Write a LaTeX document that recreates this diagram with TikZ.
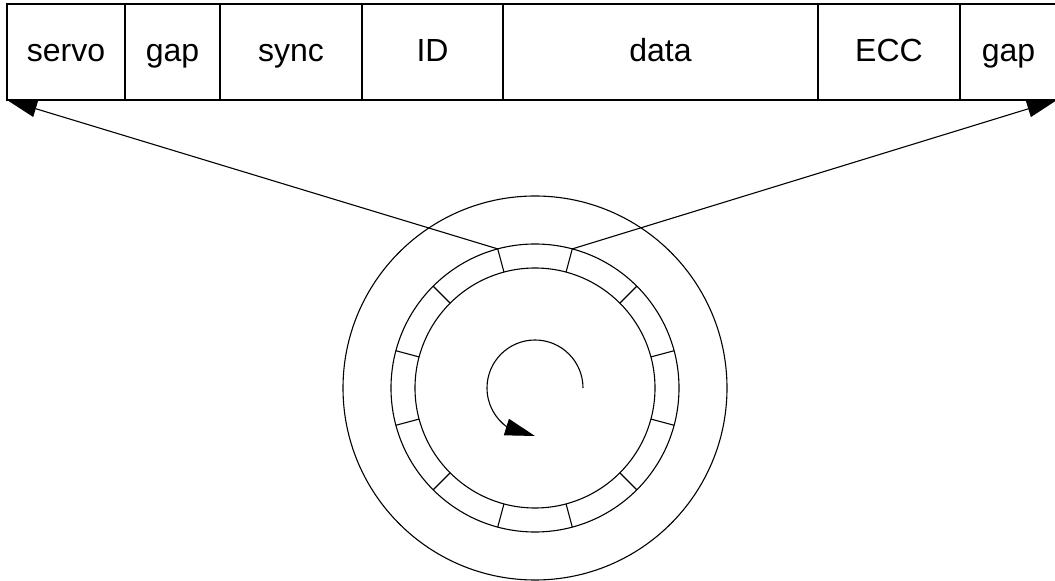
\documentclass[tikz,border=0pt]{standalone}
\usepackage{fontspec}
\setmainfont{Liberation Sans}
\usetikzlibrary{arrows.meta}
\usetikzlibrary{bending}
\usetikzlibrary{positioning}

\tikzset{
  field/.style={draw, line width=1.6pt, minimum height=96pt, inner sep=0pt,
    outer sep=0pt, text height=24pt, text depth=4pt,
    font=\fontsize{32}{38}\selectfont},
  ring/.style={line width=1.1pt},
  pointer/.style={line width=1.1pt, -{Triangle[length=30pt,width=17pt]}},
}

\begin{document}
\begin{tikzpicture}[x=1pt,y=1pt]
    \useasboundingbox (0,0) rectangle (1055,581);
    % sector layout
    \node[field, anchor=south west, minimum width=118pt] (servo) at (7,481) {servo};
    \node[field, minimum width=95pt, right=0pt of servo] (gapa) {gap};
    \node[field, minimum width=142pt, right=0pt of gapa] (sync) {sync};
    \node[field, minimum width=141pt, right=0pt of sync] (id) {ID};
    \node[field, minimum width=315pt, right=0pt of id] (data) {data};
    \node[field, minimum width=142pt, right=0pt of data] (ecc) {ECC};
    \node[field, minimum width=97pt, right=0pt of ecc] (gapb) {gap};
    % the disk
    \coordinate (c) at (535,193);
    \draw[ring] (c) circle (192);
    \draw[ring] (c) circle (144);
    \draw[ring] (c) circle (120);
    \foreach \a in {15,45,...,345}
      \draw[ring] ([shift={(\a:120)}]c) -- ([shift={(\a:144)}]c);
    \coordinate (pl) at ([shift={(105:144)}]c);
    \coordinate (pr) at ([shift={(75:144)}]c);
    \draw[pointer] (pl) -- (servo.south west);
    \draw[pointer] (pr) -- (gapb.south east);
    % direction of rotation
    \draw[ring, -{Triangle[length=30pt,width=17pt,flex]}] ([shift={(0:48)}]c) arc (0:270:48);
  \end{tikzpicture}
\end{document}
